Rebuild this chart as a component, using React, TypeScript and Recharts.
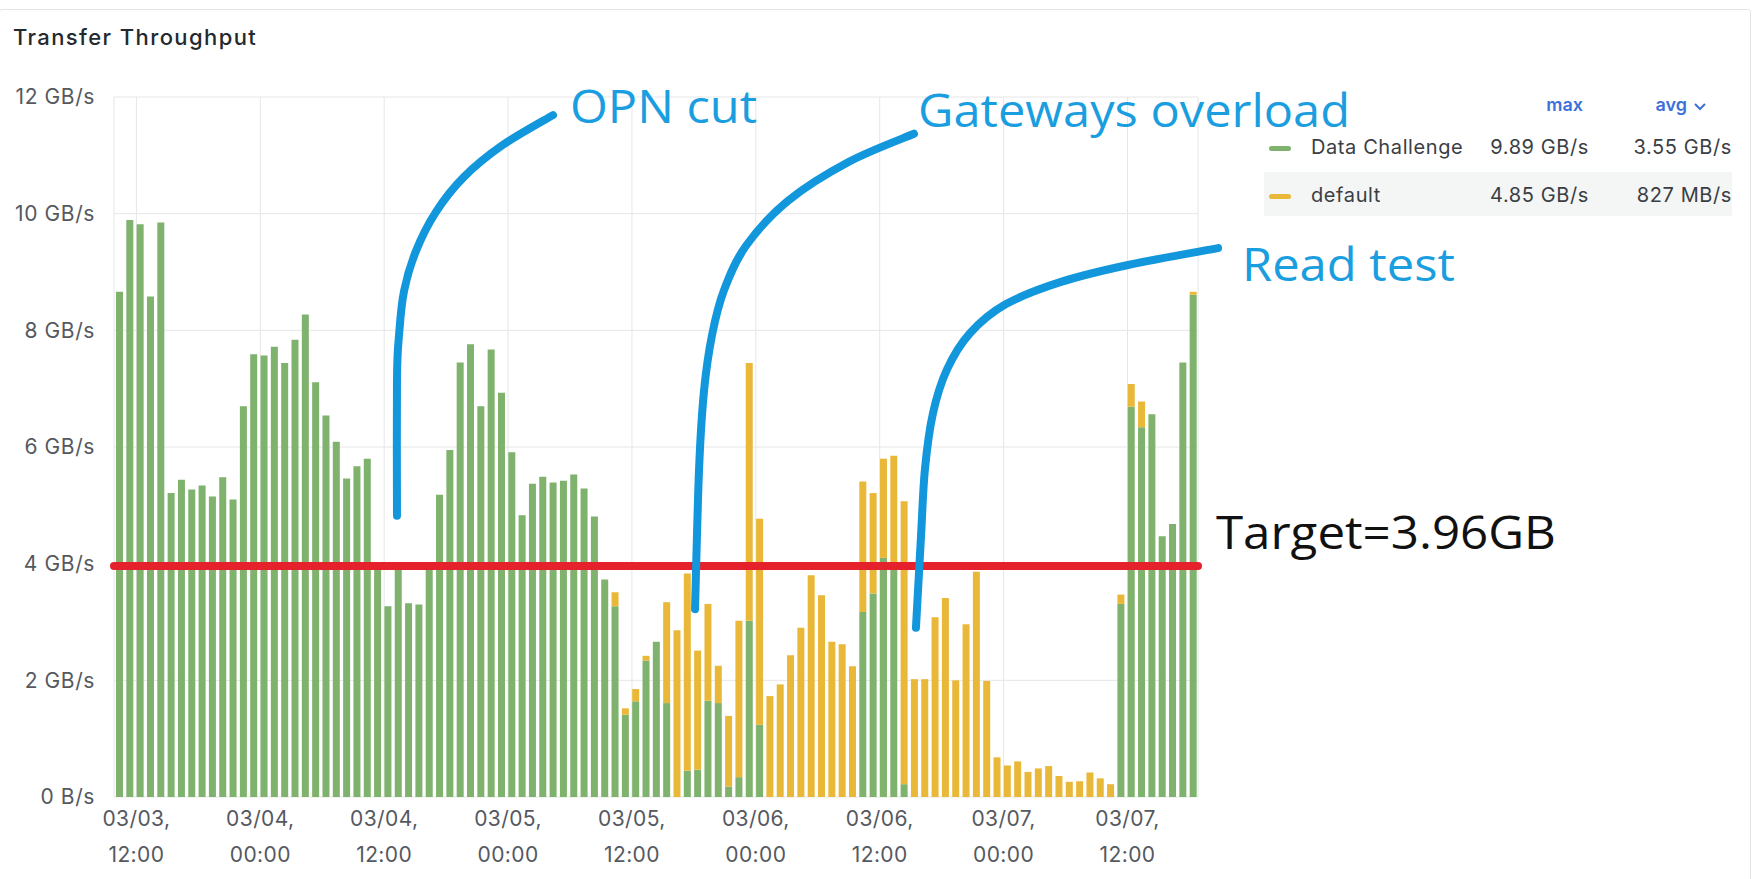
import React from 'react';
import { BarChart, Bar, XAxis, YAxis, CartesianGrid, ReferenceLine } from 'recharts';

// hourly buckets, first one at 03/03 ~10:20 (hours counted from 03/03 00:00)
const firstHour = 10.33;

const dataChallenge = [
  8.66, 9.89, 9.82, 8.58, 9.85, 5.21, 5.44, 5.27, 5.34, 5.15,
  5.48, 5.1, 6.7, 7.59, 7.57, 7.72, 7.44, 7.84, 8.27, 7.11,
  6.54, 6.09, 5.46, 5.67, 5.8, 3.9, 3.27, 3.95, 3.32, 3.3,
  3.9, 5.18, 5.95, 7.45, 7.76, 6.7, 7.67, 6.93, 5.91, 4.83,
  5.37, 5.49, 5.39, 5.42, 5.53, 5.29, 4.81, 3.73, 3.27, 1.41,
  1.64, 2.34, 2.66, 1.61, 0, 0.45, 0.47, 1.65, 1.61, 0.18,
  0.34, 3.02, 1.24, 0, 0, 0, 0, 0, 0, 0,
  0, 0, 3.17, 3.49, 4.1, 3.9, 0.22, 0, 0, 0,
  0, 0, 0, 0, 0, 0, 0, 0, 0, 0,
  0, 0, 0, 0, 0, 0, 0, 3.31, 6.69, 6.34,
  6.56, 4.47, 4.68, 7.45, 8.61,
];

const defaultSeries = [
  0, 0, 0, 0, 0, 0, 0, 0, 0, 0,
  0, 0, 0, 0, 0, 0, 0, 0, 0, 0,
  0, 0, 0, 0, 0, 0, 0, 0, 0, 0,
  0, 0, 0, 0, 0, 0, 0, 0, 0, 0,
  0, 0, 0, 0, 0, 0, 0, 0, 0.24, 0.11,
  0.21, 0.08, 0, 1.73, 2.86, 3.38, 2.04, 1.66, 0.64, 1.21,
  2.68, 4.42, 3.53, 1.73, 1.93, 2.43, 2.9, 3.8, 3.46, 2.66,
  2.62, 2.24, 2.24, 1.72, 1.7, 1.95, 4.85, 2.02, 2.02, 3.08,
  3.41, 2.0, 2.96, 3.86, 1.99, 0.68, 0.54, 0.61, 0.43, 0.49,
  0.53, 0.36, 0.26, 0.27, 0.42, 0.32, 0.22, 0.16, 0.39, 0.44,
  0, 0, 0, 0, 0.05,
];

const xTicks = [12, 24, 36, 48, 60, 72, 84, 96, 108];
const tickDates = ['03/03', '03/04', '03/04', '03/05', '03/05', '03/06', '03/06', '03/07', '03/07'];
const tickTimes = ['12:00', '00:00', '12:00', '00:00', '12:00', '00:00', '12:00', '00:00', '12:00'];
const yTicks = [0, 2, 4, 6, 8, 10, 12];

const target = 3.96;

const legendNames = ['Data Challenge', 'default'];
const legendColors = ['#7EB26D', '#EAB839'];
const legendMax = ['9.89 GB/s', '4.85 GB/s'];
const legendAvg = ['3.55 GB/s', '827 MB/s'];

// hand drawn annotation strokes, in [hour, GB/s]
const opnCurve = [[52.35, 11.69], [47.51, 11.18], [43.73, 10.63], [41.02, 10.03], [39.08, 9.36], [37.92, 8.67], [37.44, 7.92], [37.24, 7.15], [37.24, 4.82]];
const gatewayCurve = [[87.32, 11.37], [81.02, 10.89], [75.11, 10.22], [71.05, 9.45], [68.92, 8.69], [67.76, 7.92], [66.98, 6.96], [66.5, 5.62], [66.11, 3.22]];
const readCurve = [[116.77, 9.41], [108.05, 9.12], [101.56, 8.83], [96.23, 8.45], [92.74, 7.95], [90.52, 7.33], [89.16, 6.58], [88.38, 5.62], [88.0, 4.47], [87.51, 2.9]];

const notes = [
  { text: 'OPN cut', t: 54.0, v: 11.55, len: 187, color: '#1a9ee0' },
  { text: 'Gateways overload', t: 87.71, v: 11.48, len: 432, color: '#1a9ee0' },
  { text: 'Read test', t: 119.09, v: 8.84, len: 213, color: '#1a9ee0' },
  { text: 'Target=3.96GB', t: 116.57, v: 4.26, len: 340, color: '#111111' },
];

const data = dataChallenge.map((c, i) => ({ t: firstHour + i, challenge: c, def: defaultSeries[i] }));

const W = 1752;
const H = 879;
const PLOT_LEFT = 114;
const PLOT_RIGHT = 1198;
const PLOT_TOP = 97;
const PLOT_BOTTOM = 797;
const xDomain = [firstHour - 0.5, firstHour + dataChallenge.length - 0.5];

const px = (t: number) => PLOT_LEFT + ((t - xDomain[0]) / (xDomain[1] - xDomain[0])) * (PLOT_RIGHT - PLOT_LEFT);
const py = (v: number) => PLOT_BOTTOM - (v / 12) * (PLOT_BOTTOM - PLOT_TOP);

function smoothPath(pts: number[][]) {
  const p = pts.map(([t, v]) => [px(t), py(v)]);
  let d = `M${p[0][0]},${p[0][1]}`;
  for (let i = 0; i < p.length - 1; i++) {
    const p0 = p[i - 1] || p[i];
    const p1 = p[i];
    const p2 = p[i + 1];
    const p3 = p[i + 2] || p2;
    const c1x = p1[0] + (p2[0] - p0[0]) / 6;
    const c1y = p1[1] + (p2[1] - p0[1]) / 6;
    const c2x = p2[0] - (p3[0] - p1[0]) / 6;
    const c2y = p2[1] - (p3[1] - p1[1]) / 6;
    d += ` C${c1x},${c1y} ${c2x},${c2y} ${p2[0]},${p2[1]}`;
  }
  return d;
}

const axisColor = '#55595f';

function XTick(props: any) {
  const { x, y, payload } = props;
  const idx = xTicks.indexOf(payload.value);
  return (
    <text x={x} y={y} textAnchor="middle" fill={axisColor} fontSize={21} fontFamily="Inter" letterSpacing={0.4}>
      <tspan x={x} y={y + 29}>{tickDates[idx] + ','}</tspan>
      <tspan x={x} y={y + 65}>{tickTimes[idx]}</tspan>
    </text>
  );
}

function Legend() {
  return (
    <div style={{ position: 'absolute', left: 1264, top: 90, width: 468, fontFamily: 'Inter', fontSize: 20, letterSpacing: 0.6, color: '#3a3e44' }}>
      <div style={{ position: 'relative', height: 34 }}>
        <span style={{ position: 'absolute', right: 149, top: 4, color: '#3d71d9', fontWeight: 600, fontSize: 18, letterSpacing: 0 }}>max</span>
        <span style={{ position: 'absolute', right: 25, top: 4, color: '#3d71d9', fontWeight: 600, fontSize: 18, letterSpacing: 0 }}>
          avg
          <svg width="14" height="10" style={{ marginLeft: 6 }}>
            <path d="M2,3 L7,8 L12,3" fill="none" stroke="#3d71d9" strokeWidth="2" />
          </svg>
        </span>
      </div>
      {legendNames.map((name, i) => (
        <div key={name} style={{ position: 'relative', height: 44, marginTop: i === 0 ? 0 : 4, background: i === 1 ? '#f4f5f5' : 'transparent' }}>
          <span style={{ position: 'absolute', left: 5, top: 22, width: 22, height: 5, borderRadius: 3, background: legendColors[i] }} />
          <span style={{ position: 'absolute', left: 47, top: 11 }}>{name}</span>
          <span style={{ position: 'absolute', right: 143, top: 11 }}>{legendMax[i]}</span>
          <span style={{ position: 'absolute', right: 0, top: 11 }}>{legendAvg[i]}</span>
        </div>
      ))}
    </div>
  );
}

export default function App() {
  return (
    <div style={{ position: 'absolute', left: 0, top: 0, width: W, height: H, background: '#fff', overflow: 'hidden', fontFamily: 'Inter' }}>
      <div style={{ position: 'absolute', left: -1, top: 9, width: W - 2, height: H, border: '1px solid #e3e4e7', borderRadius: 3 }} />
      <div style={{ position: 'absolute', left: 13, top: 24, fontSize: 22, fontWeight: 500, letterSpacing: 1.4, color: '#24292e' }}>Transfer Throughput</div>
      <div style={{ position: 'absolute', left: 0, top: 0 }}>
        <BarChart width={W} height={H} data={data} margin={{ top: PLOT_TOP, right: W - PLOT_RIGHT, bottom: 12, left: 0 }}>
          <CartesianGrid stroke="#e6e6e6" />
          <XAxis
            dataKey="t"
            type="number"
            domain={xDomain}
            ticks={xTicks}
            interval={0}
            height={H - PLOT_BOTTOM - 12}
            axisLine={false}
            tickLine={false}
            tickSize={0}
            tickMargin={0}
            tick={<XTick />}
            allowDataOverflow
          />
          <YAxis
            type="number"
            domain={[0, 12]}
            ticks={yTicks}
            width={PLOT_LEFT}
            axisLine={false}
            tickLine={false}
            tickSize={0}
            tickMargin={19}
            tick={{ fill: axisColor, fontSize: 21, fontFamily: 'Inter', letterSpacing: 0.6 }}
            tickFormatter={(v: number) => (v === 0 ? '0 B/s' : `${v} GB/s`)}
          />
          <Bar dataKey="challenge" stackId="a" fill="#7EB26D" barSize={7} isAnimationActive={false} />
          <Bar dataKey="def" stackId="a" fill="#EAB839" barSize={7} isAnimationActive={false} />
          <ReferenceLine y={target} stroke="#e5222b" strokeWidth={8} strokeLinecap="round" />
        </BarChart>
      </div>
      <Legend />
      <svg width={W} height={H} style={{ position: 'absolute', left: 0, top: 0, pointerEvents: 'none' }}>
        {[opnCurve, gatewayCurve, readCurve].map((c, i) => (
          <path key={i} d={smoothPath(c)} fill="none" stroke="#1296dc" strokeWidth={8} strokeLinecap="round" strokeLinejoin="round" />
        ))}
        {notes.map((n) => (
          <text key={n.text} x={px(n.t)} y={py(n.v)} fill={n.color} fontSize={46} fontFamily="Open Sans" textLength={n.len} lengthAdjust="spacingAndGlyphs">
            {n.text}
          </text>
        ))}
      </svg>
    </div>
  );
}
